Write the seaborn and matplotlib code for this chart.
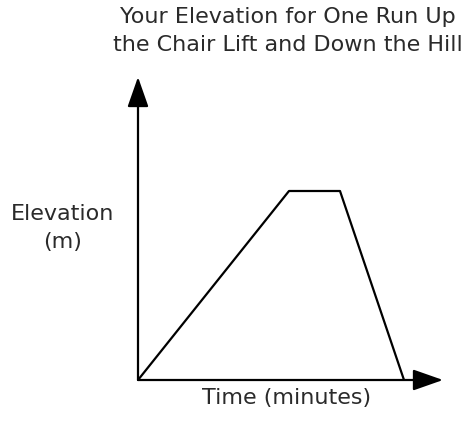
import matplotlib
matplotlib.use("Agg")
import matplotlib.pyplot as plt
import seaborn as sns
import pandas as pd

# Values (arbitrary units, no scale is shown)
time_min = [0, 15.1, 20.2, 26.6]
elevation_m = [0, 18.9, 18.9, 0]
x_max = 30.5
y_max = 30.3

title = "Your Elevation for One Run Up\nthe Chair Lift and Down the Hill"
x_label = "Time (minutes)"
y_label = "Elevation\n(m)"

df = pd.DataFrame({"time": time_min, "elevation": elevation_m})

sns.set_style("white")
plt.rcParams['font.family'] = ['DejaVu Sans']

fig = plt.figure(figsize=(4.65, 4.23), dpi=100)
# axes from origin (138, 380) to arrow tips (443, 77) in pixels
ax = fig.add_axes([138 / 465, 43 / 423, 305 / 465, 303 / 423])

sns.lineplot(data=df, x="time", y="elevation", ax=ax, color="black",
             linewidth=1.6, sort=False)

ax.set_xlim(0, x_max)
ax.set_ylim(0, y_max)
for s in ax.spines.values():
    s.set_visible(False)
ax.set_xticks([])
ax.set_yticks([])
ax.set_xlabel("")
ax.set_ylabel("")

# axis arrows
arrow = dict(arrowstyle="-|>,head_length=1.85,head_width=0.65", color="black",
             lw=1.6, shrinkA=0, shrinkB=0)
ax.annotate("", xy=(1, 0), xytext=(0, 0), xycoords="axes fraction",
            arrowprops=arrow, clip_on=False)
ax.annotate("", xy=(0, 1), xytext=(0, 0), xycoords="axes fraction",
            arrowprops=arrow, clip_on=False)

fs = 16
fig.text(288 / 465, 1 - 31 / 423, title, ha="center", va="center",
         fontsize=fs, color="#2a2a2a", linespacing=1.5)
fig.text(63 / 465, 1 - 228 / 423, y_label, ha="center", va="center",
         fontsize=fs, color="#2a2a2a", linespacing=1.55)
fig.text(287 / 465, 1 - 398 / 423, x_label, ha="center", va="center",
         fontsize=fs, color="#2a2a2a")

fig.savefig("out.png", dpi=100)
